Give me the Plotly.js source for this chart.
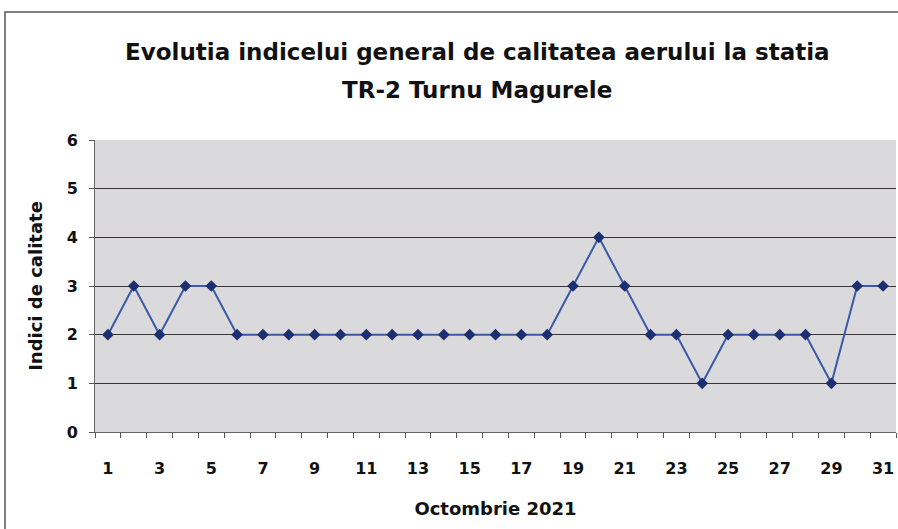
<!DOCTYPE html>
<html><head><meta charset="utf-8">
<script src="https://cdn.plot.ly/plotly-3.0.1.min.js"></script>
<style>html,body{margin:0;padding:0;background:#fff;}#chart{width:898px;height:529px;}</style>
</head><body><div id="chart"></div>
<script>
const days = [1,2,3,4,5,6,7,8,9,10,11,12,13,14,15,16,17,18,19,20,21,22,23,24,25,26,27,28,29,30,31];
const indici = [2,3,2,3,3,2,2,2,2,2,2,2,2,2,2,2,2,2,3,4,3,2,2,1,2,2,2,2,1,3,3];
const xTickVals = [1,3,5,7,9,11,13,15,17,19,21,23,25,27,29,31];
const yTickVals = [0,1,2,3,4,5,6];
const titleLine1 = 'Evolutia indicelui general de calitatea aerului la statia';
const titleLine2 = 'TR-2 Turnu Magurele';

const F = 'DejaVu Sans, Verdana, sans-serif';
const trace = {
  x: days, y: indici, type: 'scatter', mode: 'lines+markers',
  line: {color: '#3a5aa8', width: 2},
  marker: {symbol: 'diamond', size: 9, color: '#1c2f70'},
  hoverinfo: 'skip'
};
const layout = {
  width: 898, height: 529,
  margin: {l: 95, r: 2, t: 140, b: 97},
  paper_bgcolor: 'rgba(0,0,0,0)',
  plot_bgcolor: '#dad9dc',
  showlegend: false,
  font: {family: F, color: '#111'},
  xaxis: {
    range: [0.5, 31.5], tickmode: 'array', tickvals: xTickVals, ticktext: xTickVals.map(String),
    ticks: 'outside', ticklen: 0, tickcolor: 'rgba(0,0,0,0)', ticklabelstandoff: 22,
    minor: {tickmode: 'linear', tick0: 0.5, dtick: 1, ticks: 'outside', ticklen: 5, tickcolor: '#555', showgrid: false},
    showgrid: false, zeroline: false, showline: true, linecolor: '#666', linewidth: 1,
    tickfont: {family: F, size: 16, color: '#111', weight: 'bold'},
    title: {text: '<b>Octombrie 2021</b>', font: {family: F, size: 18, color: '#111'}, standoff: 25}
  },
  yaxis: {
    range: [0, 6], tickmode: 'array', tickvals: yTickVals,
    ticks: 'outside', ticklen: 5, tickcolor: '#555', ticklabelstandoff: 8,
    showgrid: true, gridcolor: '#3b3434', gridwidth: 1,
    zeroline: false, showline: true, linecolor: '#666', linewidth: 1,
    tickfont: {family: F, size: 16, color: '#111', weight: 'bold'},
    title: {text: '<b>Indici de calitate</b>', font: {family: F, size: 18, color: '#111'}, standoff: 19}
  },
  annotations: [
    {text: '<b>' + titleLine1 + '</b>', xref: 'paper', yref: 'paper', x: 0.4775, y: (432-52)/292, xanchor: 'center', yanchor: 'middle', showarrow: false, font: {family: F, size: 23, color: '#111'}},
    {text: '<b>' + titleLine2 + '</b>', xref: 'paper', yref: 'paper', x: 0.4775, y: (432-90)/292, xanchor: 'center', yanchor: 'middle', showarrow: false, font: {family: F, size: 23, color: '#111'}}
  ],
  shapes: [
    {type: 'rect', xref: 'paper', yref: 'paper', x0: (5-95)/801, x1: 1.1, y0: -0.5, y1: (432-12)/292, line: {color: '#555', width: 1.5}, fillcolor: 'rgba(0,0,0,0)', layer: 'below'}
  ]
};
Plotly.newPlot('chart', [trace], layout, {staticPlot: true, displayModeBar: false});
</script></body></html>
